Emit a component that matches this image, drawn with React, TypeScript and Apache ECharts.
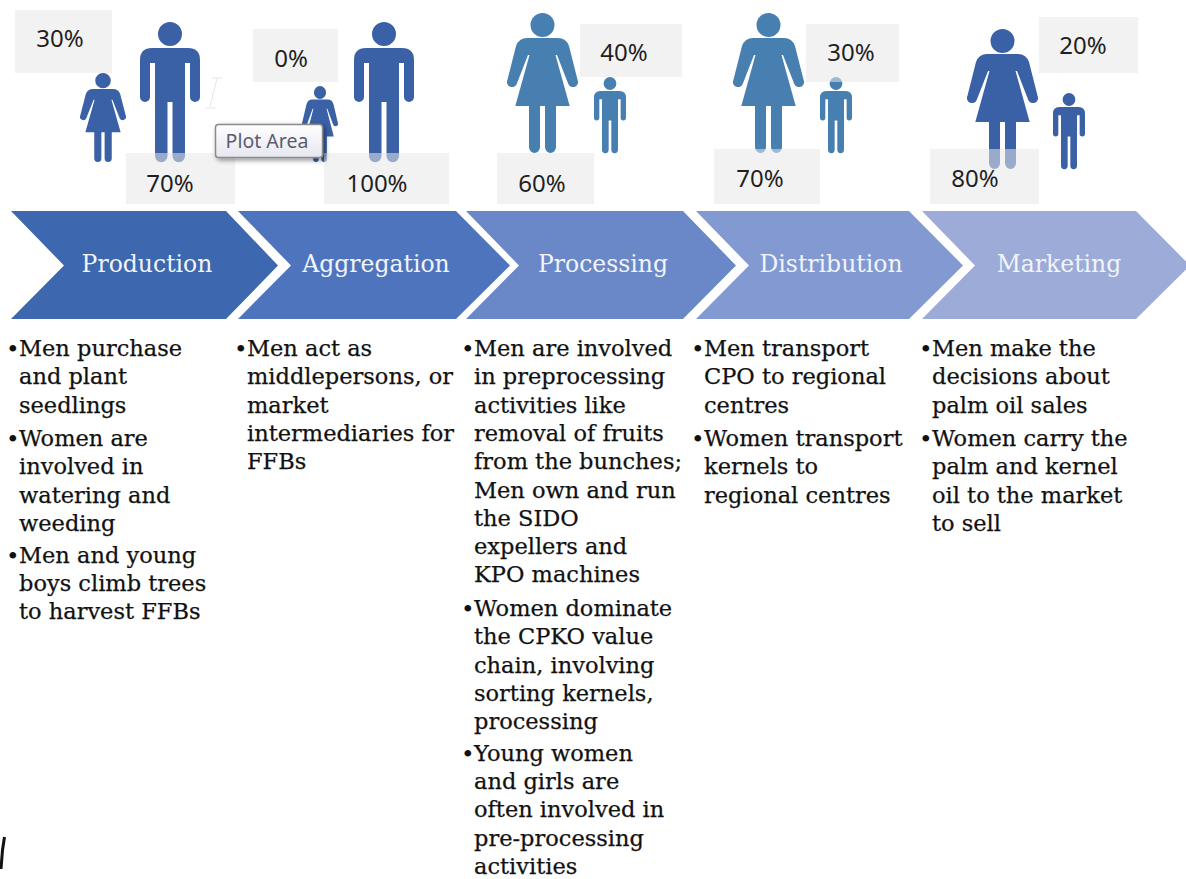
import React, { useEffect, useRef } from "react";
import * as echarts from "echarts";

const stages = ["Production", "Aggregation", "Processing", "Distribution", "Marketing"];
const majorityShares = ["70%", "100%", "60%", "70%", "80%"];
const minorityShares = ["30%", "0%", "40%", "30%", "20%"];

const productionLines = [
  ["Men purchase", "and plant", "seedlings"],
  ["Women are", "involved in", "watering and", "weeding"],
  ["Men and young", "boys climb trees", "to harvest FFBs"],
];
const aggregationLines = [["Men act as", "middlepersons, or", "market", "intermediaries for", "FFBs"]];
const processingLines = [
  ["Men are involved", "in preprocessing", "activities like", "removal of fruits", "from the bunches;", "Men own and run", "the SIDO", "expellers and", "KPO machines"],
  ["Women dominate", "the CPKO value", "chain, involving", "sorting kernels,", "processing"],
  ["Young women", "and girls are", "often involved in", "pre-processing", "activities"],
];
const distributionLines = [
  ["Men transport", "CPO to regional", "centres"],
  ["Women transport", "kernels to", "regional centres"],
];
const marketingLines = [
  ["Men make the", "decisions about", "palm oil sales"],
  ["Women carry the", "palm and kernel", "oil to the market", "to sell"],
];
const stageLines = [productionLines, aggregationLines, processingLines, distributionLines, marketingLines];

// Layout, kept apart from the data
const chevronLeft = [11, 238, 466, 696, 922];
const chevronRight = [226, 456, 683, 909, 1136];
const chevronTip = [278, 510, 736, 963, 1190];
const chevronColors = ["#3d67ae", "#4f74be", "#6a88c8", "#8299d2", "#9dabd8"];
const chevronLabelX = [147, 376, 603, 831, 1059];
const columnX = [19, 247, 474, 704, 932];
const lineStep = 28.3;
const bulletGaps = [5.2, 3.4];
const firstLineY = 348;

const blue = "#3a60a6";
const steel = "#487fb1";
type Fig = { kind: string; x: number; y: number; w: number; h: number; color: string };
const figures: Fig[] = [
  { kind: "woman", x: 80, y: 73, w: 46, h: 89, color: blue },
  { kind: "man", x: 140, y: 22, w: 60, h: 140, color: blue },
  { kind: "woman", x: 302, y: 86, w: 36, h: 76, color: blue },
  { kind: "man", x: 354, y: 22, w: 60, h: 140, color: blue },
  { kind: "woman", x: 507, y: 13, w: 71, h: 140, color: steel },
  { kind: "man", x: 594, y: 77, w: 32, h: 76, color: steel },
  { kind: "woman", x: 733, y: 13, w: 71, h: 140, color: steel },
  { kind: "man", x: 820, y: 77, w: 32, h: 76, color: steel },
  { kind: "woman", x: 967, y: 29, w: 71, h: 140, color: blue },
  { kind: "man", x: 1053, y: 93, w: 32, h: 76, color: blue },
];
// [x0, x1, y0, y1, labelX, labelY]
const majorityBoxes = [
  [126, 235, 153, 204, 170, 182],
  [324, 449, 153, 204, 377, 182],
  [497, 594, 153, 204, 542, 182],
  [714, 820, 149, 204, 760, 177],
  [930, 1039, 149, 204, 975, 177],
];
const minorityBoxes = [
  [15, 112, 10, 73, 60, 37],
  [253, 338, 29, 82, 291, 57],
  [580, 682, 24, 77, 624, 51],
  [806, 899, 24, 82, 851, 51],
  [1039, 1138, 17, 73, 1083, 44],
];

const manPath =
  "M42 12A12 12 0 1 1 18 12A12 12 0 1 1 42 12ZM12 26L48 26Q60 26 60 38L60 75A5 5 0 0 1 50 75L50 41L45 41L45 134A6.25 6.25 0 0 1 32.5 134L32.5 80L27.5 80L27.5 134A6.25 6.25 0 0 1 15 134L15 41L10 41L10 75A5 5 0 0 1 0 75L0 38Q0 26 12 26Z";
const womanPath =
  "M47.5 12A12 12 0 1 1 23.5 12A12 12 0 1 1 47.5 12ZM20 25L51 25Q59 25 62 33L70.6 67A5 5 0 0 1 61.3 71L50 42L48.5 42L62.7 93L49 93L49 134A5.5 6 0 0 1 38 134L38 93L33 93L33 134A5.5 6 0 0 1 22 134L22 93L8.3 93L22.5 42L21 42L9.7 71A5 5 0 0 1 0.4 67L9 33Q12 25 20 25Z";
echarts.graphic.registerShape("man", echarts.graphic.extendPath(manPath, {}));
echarts.graphic.registerShape("woman", echarts.graphic.extendPath(womanPath, {}));

const sansFont = "'Noto Sans'";
const serifFont = "'DejaVu Serif'";

function buildGraphic() {
  const els: any[] = [];
  // chevrons
  stages.forEach((name, i) => {
    const l = chevronLeft[i];
    const r = chevronRight[i];
    const points = [
      [l, 211],
      [r, 211],
      [chevronTip[i], 265.5],
      [r, 319],
      [l, 319],
      [l + 53, 265.5],
    ];
    els.push({ type: "polygon", shape: { points }, style: { fill: chevronColors[i] } });
    els.push({
      type: "text",
      x: chevronLabelX[i],
      y: 264,
      style: { text: name, fill: "#f1f4fb", font: `23.5px ${serifFont}`, textAlign: "center", textVerticalAlign: "middle" },
    });
  });
  // figures
  figures.forEach((f) => {
    const baseW = f.kind === "man" ? 60 : 71;
    els.push({ type: f.kind, x: f.x, y: f.y, scaleX: f.w / baseW, scaleY: f.h / 140, style: { fill: f.color } });
  });
  // percentage boxes, translucent over the figures' feet
  const box = (b: number[], text: string) => {
    els.push({
      type: "rect",
      shape: { x: b[0], y: b[2], width: b[1] - b[0], height: b[3] - b[2] },
      style: { fill: "rgba(231,231,231,0.55)" },
    });
    els.push({
      type: "text",
      x: b[4],
      y: b[5],
      style: { text, fill: "#1f1f1f", font: `24px ${sansFont}`, textAlign: "center", textVerticalAlign: "middle" },
    });
  };
  majorityBoxes.forEach((b, i) => box(b, majorityShares[i]));
  minorityBoxes.forEach((b, i) => box(b, minorityShares[i]));
  // bullet lists
  stageLines.forEach((bullets, c) => {
    let y = firstLineY;
    bullets.forEach((lines, b) => {
      els.push({
        type: "text",
        x: columnX[c] - 13,
        y: y + 1,
        style: { text: "•", fill: "#111111", font: `23px ${serifFont}`, textAlign: "left", textVerticalAlign: "middle" },
      });
      lines.forEach((line) => {
        els.push({
          type: "text",
          x: columnX[c],
          y,
          style: {
            text: line,
            fill: "#111111",
            stroke: "#111111",
            lineWidth: 0.25,
            font: `22.5px ${serifFont}`,
            textAlign: "left",
            textVerticalAlign: "middle",
          },
        });
        y += lineStep;
      });
      y += bulletGaps[b] ?? 0;
    });
  });
  // screenshot artefacts: tooltip, text cursor, stroke at lower left
  els.push({
    type: "rect",
    shape: { x: 215.5, y: 124.5, width: 107, height: 33, r: 3 },
    style: {
      fill: new echarts.graphic.LinearGradient(0, 0, 0, 1, [
        { offset: 0, color: "#ffffff" },
        { offset: 1, color: "#e6e6f0" },
      ]),
      stroke: "#8a8a8a",
      lineWidth: 1.5,
      shadowBlur: 5,
      shadowColor: "rgba(0,0,0,0.45)",
      shadowOffsetX: 2,
      shadowOffsetY: 2,
    },
  });
  els.push({
    type: "text",
    x: 267,
    y: 140,
    style: { text: "Plot Area", fill: "#5c5c6c", font: `19.5px ${sansFont}`, textAlign: "center", textVerticalAlign: "middle" },
  });
  els.push({ type: "line", shape: { x1: 217, y1: 78, x2: 210, y2: 107 }, style: { stroke: "#e6e6e6", lineWidth: 1 } });
  els.push({ type: "line", shape: { x1: 212, y1: 78, x2: 222, y2: 78 }, style: { stroke: "#e6e6e6", lineWidth: 1 } });
  els.push({ type: "line", shape: { x1: 206, y1: 108, x2: 216, y2: 108 }, style: { stroke: "#e6e6e6", lineWidth: 1 } });
  els.push({
    type: "polyline",
    shape: { points: [[4.5, 837], [2.5, 850], [1, 869]] },
    style: { stroke: "#111111", lineWidth: 3, fill: "none" },
  });
  return els;
}

export default function App() {
  const ref = useRef<HTMLDivElement>(null);
  useEffect(() => {
    const chart = echarts.init(ref.current!, undefined, { renderer: "svg" });
    chart.setOption({ animation: false, backgroundColor: "#ffffff", graphic: { elements: buildGraphic() } });
    return () => chart.dispose();
  }, []);
  return <div ref={ref} style={{ position: "absolute", left: 0, top: 0, width: 1186, height: 879 }} />;
}
